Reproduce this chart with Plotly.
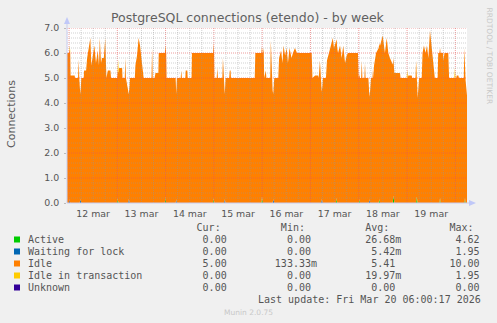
import plotly.graph_objects as go

# ---- data (hours since 12 mar 2026 00:00) ----
idle_h = [-1.0, 0.2, 0.6, 0.8, 2.8, 3.0, 4.5, 4.8, 5.1, 5.6, 6.1, 7.3, 7.5, 8.5, 9.0, 10.6, 11.1, 12.6,
          13.4, 14.3, 14.9, 15.3, 15.9, 16.4, 17.3, 18.0, 18.6, 19.3, 20.6, 20.9, 24.0, 24.9, 26.4, 26.6,
          27.7, 28.0, 28.3, 29.7, 30.3, 32.7, 33.0, 33.8, 34.6, 35.3, 36.0, 37.1, 41.0, 41.3, 41.6, 42.5,
          43.0, 44.4, 44.6, 47.8, 48.0, 48.3, 48.5, 53.0, 53.3, 53.6, 55.5, 55.8, 56.1, 57.8, 58.0, 58.8,
          59.0, 60.9, 61.1, 71.7, 71.9, 72.1, 72.3, 73.4, 73.7, 74.0, 76.2, 76.5, 76.8, 77.4, 77.8, 79.6,
          79.9, 80.3, 80.5, 92.3, 92.6, 96.4, 96.6, 96.8, 97.0, 97.8, 98.1, 100.0, 100.3, 100.7, 101.5,
          102.0, 104.0, 104.4, 105.4, 106.1, 106.6, 107.4, 108.2, 108.8, 109.6, 110.6, 111.3, 112.3, 113.3,
          120.6, 121.0, 122.3, 123.8, 124.1, 124.7, 125.0, 125.6, 126.2, 127.7, 128.2, 129.2, 130.2, 131.1,
          131.7, 132.7, 133.7, 134.7, 135.5, 136.3, 137.2, 138.0, 138.7, 143.6, 143.9, 145.2, 145.5, 145.8,
          146.8, 147.1, 147.4, 148.8, 149.3, 150.1, 150.8, 151.1, 151.4, 151.6, 152.6, 154.6, 155.9, 157.0,
          157.9, 158.7, 159.5, 160.4, 161.2, 161.7, 164.5, 164.8, 168.4, 168.6, 170.3, 170.6, 172.2, 172.5,
          172.8, 173.3, 174.0, 175.3, 175.7, 176.4, 177.2, 177.9, 178.6, 179.4, 180.3, 181.1, 181.8, 183.2,
          183.5, 185.9, 186.1, 186.6, 188.5, 188.9, 192.4, 192.7, 193.5, 193.8, 196.2, 196.5, 196.8, 197.0,
          197.8]
idle_v = [6.0, 6.0, 6.0, 5.1, 5.1, 5.0, 5.0, 5.75, 5.0, 4.2, 5.0, 5.0, 5.3, 5.3, 5.8, 6.6, 5.5, 6.3,
          5.6, 6.1, 5.5, 6.6, 5.6, 5.8, 5.8, 6.6, 5.0, 5.3, 5.3, 5.0, 5.0, 5.4, 5.4, 5.0,
          5.0, 5.8, 5.0, 4.2, 5.0, 5.0, 5.5, 5.9, 6.6, 6.3, 5.8, 5.0, 5.0, 6.2, 5.0, 5.0,
          5.2, 5.2, 6.0, 6.0, 6.1, 6.0, 5.0, 5.0, 4.2, 5.0, 5.0, 5.3, 5.0, 5.0, 5.3, 5.3,
          5.0, 5.0, 6.0, 6.0, 6.2, 6.0, 5.0, 5.0, 5.4, 5.0, 5.0, 5.8, 5.0, 4.2, 5.0, 5.0,
          5.3, 5.3, 5.0, 5.0, 6.0, 6.0, 6.2, 6.0, 5.0, 5.3, 5.0, 5.0, 6.5, 5.0, 4.2,
          5.0, 5.0, 5.8, 6.1, 5.6, 6.3, 5.9, 6.2, 5.6, 6.2, 5.8, 6.0, 6.2, 6.0,
          6.0, 5.0, 5.1, 5.1, 5.0, 5.7, 5.0, 4.3, 5.0, 5.0, 5.7, 6.0, 6.3, 6.6,
          6.2, 6.5, 6.0, 6.3, 5.8, 6.3, 5.6, 5.9, 6.0, 6.0, 5.0, 5.0, 5.7, 5.0,
          5.0, 5.6, 5.0, 5.0, 4.1, 5.0, 5.0, 5.4, 5.0, 5.5, 6.0, 6.3, 6.7, 6.0,
          6.6, 6.0, 5.8, 5.6, 5.5, 5.2, 5.2, 5.0, 5.0, 5.1, 5.1, 5.0, 5.0, 5.7,
          5.0, 4.2, 5.0, 5.0, 6.0, 6.3, 6.0, 6.3, 5.8, 6.9, 6.2, 5.5, 5.0, 5.0,
          6.0, 6.0, 5.7, 6.0, 6.0, 5.0, 5.0, 5.1, 5.1, 5.0, 5.0, 6.2, 5.0, 5.0,
          4.3]

active_h = [-1.0, 23.9, 24.2, 24.5, 47.6, 47.9, 48.2, 71.6, 71.9, 72.2, 95.6, 95.9, 96.2, 132.7, 133.0,
            133.3, 144.0, 144.3, 144.6, 153.9, 154.2, 154.5, 160.9, 161.2, 161.5, 172.5, 172.8, 173.1,
            184.1, 184.4, 184.7, 196.5, 196.8, 197.1, 197.8]
active_v = [0.0, 0.0, 0.2, 0.0, 0.0, 0.25, 0.0, 0.0, 0.2, 0.0, 0.0, 0.25, 0.0, 0.0, 0.2,
            0.0, 0.0, 0.15, 0.0, 0.0, 0.15, 0.0, 0.0, 0.3, 0.0, 0.0, 0.25, 0.0,
            0.0, 0.2, 0.0, 0.0, 0.2, 0.0, 0.0]

waiting_h = [-1.0, 0.0, 0.3, 0.6, 5.3, 5.6, 5.9, 29.4, 29.7, 30.0, 53.0, 53.3, 53.6, 77.1, 77.4, 77.7,
             101.2, 101.5, 101.8, 125.3, 125.6, 125.9, 149.0, 149.3, 149.6, 197.8]
waiting_v = [0.0, 0.0, 0.15, 0.0, 0.0, 0.15, 0.0, 0.0, 0.15, 0.0, 0.0, 0.15, 0.0, 0.0, 0.15, 0.0,
             0.0, 0.15, 0.0, 0.0, 0.15, 0.0, 0.0, 0.15, 0.0, 0.0]

iit_h = [-1.0, 0.1, 0.4, 0.7, 24.1, 24.4, 24.7, 167.8, 168.1, 168.4, 191.5, 191.8, 192.1, 197.8]
iit_v = [0.0, 0.0, 0.2, 0.0, 0.0, 0.5, 0.0, 0.0, 0.35, 0.0, 0.0, 0.4, 0.0, 0.0]

unknown_h = [-1.0, 197.8]
unknown_v = [0.0, 0.0]

day_ticks_h = [12, 36, 60, 84, 108, 132, 156, 180]
day_labels = ["12 mar", "13 mar", "14 mar", "15 mar", "16 mar", "17 mar", "18 mar", "19 mar"]
y_ticks = [0, 1, 2, 3, 4, 5, 6, 7]
y_labels = ["0.0", "1.0", "2.0", "3.0", "4.0", "5.0", "6.0", "7.0"]

series_names = ["Active", "Waiting for lock", "Idle", "Idle in transaction", "Unknown"]
series_colors = ["#00CC00", "#0066B3", "#FF8000", "#FFCC00", "#330099"]
cur_vals = ["0.00 ", "0.00 ", "5.00 ", "0.00 ", "0.00 "]
min_vals = ["0.00 ", "0.00 ", "133.33m", "0.00 ", "0.00 "]
avg_vals = ["26.68m", "5.42m", "5.41 ", "19.97m", "0.00 "]
max_vals = ["4.62 ", "1.95 ", "10.00 ", "1.95 ", "0.00 "]

title = "PostgreSQL connections (etendo) - by week"
y_title = "Connections"
last_update = "Last update: Fri Mar 20 06:00:17 2026"
footer = "Munin 2.0.75"
side_text = "RRDTOOL / TOBI OETIKER"

X_MIN, X_MAX = -1.0, 197.8
Y_MIN, Y_MAX = 0.0, 7.0

# ---- figure ----
W, H = 497, 323
ML, MR, MT, MB = 67, 30, 28, 120
PW, PH = W - ML - MR, H - MT - MB

def px_x(p):
    return (p - ML) / PW

def px_y(p):
    return (H - MB - p) / PH

fig = go.Figure()
data_sets = [(active_h, active_v), (waiting_h, waiting_v), (idle_h, idle_v), (iit_h, iit_v), (unknown_h, unknown_v)]
for (hx, hv), name, col in zip(data_sets, series_names, series_colors):
    fig.add_trace(go.Scatter(
        x=hx, y=hv, name=name, mode="lines", stackgroup="one", stackgaps="interpolate",
        line=dict(color=col, width=0), fillcolor=col, showlegend=False, hoverinfo="skip"))

shapes = []
# grid lines drawn above the areas, like rrdtool
minor_col = "rgba(150,150,150,0.45)"
major_col = "rgba(225,90,90,0.6)"
hx = 0
while hx <= X_MAX:
    if hx >= X_MIN:
        is_major = (hx % 24 == 0)
        shapes.append(dict(type="line", xref="x", yref="paper", x0=hx, x1=hx, y0=0, y1=1, layer="above",
                           line=dict(color=major_col if is_major else minor_col, width=1, dash="1px,1px")))
    hx += 6
for i in range(1, 36):
    yv = i * 0.2
    is_major = (i % 5 == 0)
    shapes.append(dict(type="line", xref="paper", yref="y", x0=0, x1=1, y0=yv, y1=yv, layer="above",
                       line=dict(color=major_col if is_major else minor_col, width=1, dash="1px,1px")))
# legend squares
row_y = [239.5, 251.5, 263.5, 275.5, 287.5]
for ry, col in zip(row_y, series_colors):
    shapes.append(dict(type="rect", xref="paper", yref="paper", x0=px_x(14), x1=px_x(20),
                       y0=px_y(ry + 3), y1=px_y(ry - 3), fillcolor=col, line=dict(width=0), layer="above"))
# axis lines and arrows
axis_col = "#C8CCF0"
shapes.append(dict(type="line", xref="paper", yref="paper", x0=0, x1=0, y0=0, y1=px_y(22),
                   line=dict(color=axis_col, width=1), layer="above"))
shapes.append(dict(type="line", xref="paper", yref="paper", x0=0, x1=px_x(470), y0=0, y1=0,
                   line=dict(color=axis_col, width=1), layer="above"))
shapes.append(dict(type="path", xref="paper", yref="paper",
                   path=f"M {px_x(64)} {px_y(24)} L {px_x(70)} {px_y(24)} L {px_x(67)} {px_y(17)} Z",
                   fillcolor="#C0C8F8", line=dict(width=0), layer="above"))
shapes.append(dict(type="path", xref="paper", yref="paper",
                   path=f"M {px_x(469)} {px_y(200)} L {px_x(469)} {px_y(206)} L {px_x(476)} {px_y(203)} Z",
                   fillcolor="#C0C8F8", line=dict(width=0), layer="above"))

NB = "\u00a0"
mono = "DejaVu Sans Mono"
txt_col = "#555555"
annotations = []
header = " " * 28 + "Cur:" + " " * 10 + "Min:" + " " * 10 + "Avg:" + " " * 10 + "Max:"
annotations.append(dict(text=header.replace(" ", NB), x=px_x(26), y=px_y(227), xref="paper", yref="paper",
                        xanchor="left", yanchor="middle", showarrow=False,
                        font=dict(family=mono, size=10, color=txt_col)))
for ry, name, c, mn, av, mx in zip(row_y, series_names, cur_vals, min_vals, avg_vals, max_vals):
    line = f"{name:<20}{c:>14}{mn:>14}{av:>14}{mx:>14}"
    annotations.append(dict(text=line.replace(" ", NB), x=px_x(26), y=px_y(ry), xref="paper", yref="paper",
                            xanchor="left", yanchor="middle", showarrow=False,
                            font=dict(family=mono, size=10, color=txt_col)))
annotations.append(dict(text=last_update.replace(" ", NB), x=px_x(483), y=px_y(299.5), xref="paper", yref="paper",
                        xanchor="right", yanchor="middle", showarrow=False,
                        font=dict(family=mono, size=10, color=txt_col)))
annotations.append(dict(text=footer, x=px_x(248), y=px_y(312), xref="paper", yref="paper",
                        xanchor="center", yanchor="middle", showarrow=False,
                        font=dict(family="DejaVu Sans", size=7.5, color="#C8C8C8")))
annotations.append(dict(text=side_text, x=px_x(489), y=px_y(5), xref="paper", yref="paper",
                        xanchor="center", yanchor="top", showarrow=False, textangle=90,
                        font=dict(family="DejaVu Sans", size=7.5, color="#C8C8C8")))
annotations.append(dict(text=title, x=px_x(248), y=px_y(18), xref="paper", yref="paper",
                        xanchor="center", yanchor="middle", showarrow=False,
                        font=dict(family="DejaVu Sans", size=12.5, color="#606060")))
annotations.append(dict(text=y_title, x=px_x(11), y=px_y(114), xref="paper", yref="paper",
                        xanchor="center", yanchor="middle", showarrow=False, textangle=-90,
                        font=dict(family="DejaVu Sans", size=11, color="#5A5A5A")))

fig.update_layout(
    width=W, height=H, margin=dict(l=ML, r=MR, t=MT, b=MB, pad=0),
    paper_bgcolor="#F0F0F0", plot_bgcolor="#FFFFFF",
    shapes=shapes, annotations=annotations, showlegend=False,
    xaxis=dict(range=[X_MIN, X_MAX], tickmode="array", tickvals=day_ticks_h, ticktext=day_labels,
               showgrid=False, zeroline=False, showline=False, ticks="", ticklabelstandoff=4,
               tickfont=dict(family="DejaVu Sans", size=9.4, color="#555555"), fixedrange=True),
    yaxis=dict(range=[Y_MIN, Y_MAX], tickmode="array", tickvals=y_ticks, ticktext=y_labels,
               showgrid=False, zeroline=False, showline=False, ticks="outside", ticklen=2,
               tickcolor="#BBBBBB", ticklabelstandoff=3,
               tickfont=dict(family="DejaVu Sans", size=9.4, color="#555555"), fixedrange=True),
)

fig.write_html("out.html")
